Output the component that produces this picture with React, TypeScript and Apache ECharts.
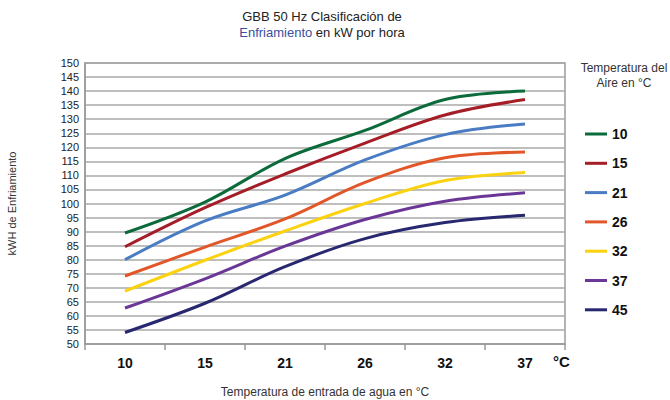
import React, { useEffect, useRef } from "react";
import * as echarts from "echarts";

const categories = ["10", "15", "21", "26", "32", "37"];
const seriesNames = ["10", "15", "21", "26", "32", "37", "45"];
const s10 = [89.5, 100.5, 116, 126, 137, 140];
const s15 = [84.6, 98.5, 110.5, 121.5, 131.5, 137];
const s21 = [80, 93.8, 103, 115.5, 124.5, 128.3];
const s26 = [74.2, 84.5, 94.5, 107.5, 116.3, 118.3];
const s32 = [68.8, 79.8, 90.2, 100, 108.2, 111];
const s37 = [62.8, 73.2, 84.8, 94.3, 100.8, 103.8];
const s45 = [54.1, 64.5, 77.5, 87.5, 93.2, 95.8];
const seriesValues = [s10, s15, s21, s26, s32, s37, s45];
const colors = ["#0b6b3a", "#a51e27", "#4a7cc3", "#e1572a", "#fad20f", "#6b3797", "#27286f"];

const FONT = "Liberation Sans, Arial, sans-serif";

export default function App() {
  const ref = useRef<HTMLDivElement>(null);
  useEffect(() => {
    if (!ref.current) return;
    const chart = echarts.init(ref.current, undefined, { renderer: "svg" });
    chart.setOption({
      animation: false,
      textStyle: { fontFamily: FONT },
      grid: {
        left: 85,
        right: 105,
        top: 63,
        bottom: 56,
        show: true,
        borderColor: "#9a9a9a",
        borderWidth: 1.5,
        outerBoundsMode: "none",
        containLabel: false,
      },
      legend: {
        orient: "vertical",
        left: 580,
        top: 121,
        icon: "rect",
        itemWidth: 22,
        itemHeight: 3,
        itemGap: 13.3,
        data: seriesNames,
        textStyle: { fontSize: 14, fontWeight: "bold", color: "#111", lineHeight: 16, fontFamily: FONT },
      },
      xAxis: {
        type: "category",
        data: categories,
        boundaryGap: true,
        axisLine: { lineStyle: { color: "#9a9a9a", width: 1.5 } },
        axisTick: { show: true, length: 6, lineStyle: { color: "#9a9a9a", width: 1.5 } },
        axisLabel: { fontSize: 14, fontWeight: "bold", color: "#111", margin: 12, fontFamily: FONT },
        name: "Temperatura de entrada de agua en °C",
        nameLocation: "middle",
        nameGap: 42,
        nameTextStyle: { fontSize: 12, color: "#333", fontFamily: FONT },
      },
      yAxis: {
        type: "value",
        min: 50,
        max: 150,
        interval: 5,
        axisLine: { show: true, lineStyle: { color: "#9a9a9a", width: 1.5 } },
        axisTick: { show: false },
        axisLabel: { fontSize: 11, color: "#222", margin: 6, fontFamily: FONT },
        splitLine: { lineStyle: { color: "#a8a8a8", width: 1.5 } },
        name: "kWH de Enfriamiento",
        nameLocation: "middle",
        nameGap: 68,
        nameTextStyle: { fontSize: 11, color: "#333", fontFamily: FONT },
      },
      graphic: [
        {
          type: "text",
          x: 322,
          y: 10,
          style: {
            text: "GBB 50 Hz Clasificación de",
            align: "center",
            fontSize: 13,
            fill: "#222",
            fontFamily: FONT,
          },
        },
        {
          type: "text",
          x: 322,
          y: 26,
          style: {
            text: "{b|Enfriamiento} en kW por hora",
            align: "center",
            fontSize: 13,
            fill: "#222",
            fontFamily: FONT,
            rich: { b: { fill: "#3b4ea0", fontSize: 13, fontFamily: FONT } },
          },
        },
        {
          type: "text",
          x: 624,
          y: 60,
          style: {
            text: "Temperatura del\nAire en °C",
            align: "center",
            fontSize: 12,
            lineHeight: 15,
            fill: "#333",
            fontFamily: FONT,
          },
        },
        {
          type: "text",
          x: 553,
          y: 354,
          style: { text: "°C", fontSize: 15, fontWeight: "bold", fill: "#111", fontFamily: FONT },
        },
      ],
      series: seriesNames.map((n, i) => ({
        name: n,
        type: "line",
        data: seriesValues[i],
        smooth: 0.35,
        showSymbol: false,
        symbol: "none",
        color: colors[i],
        lineStyle: { width: 3, color: colors[i] },
      })),
    });
    return () => chart.dispose();
  }, []);
  return <div ref={ref} style={{ width: 670, height: 400, position: "absolute", left: 0, top: 0 }} />;
}
